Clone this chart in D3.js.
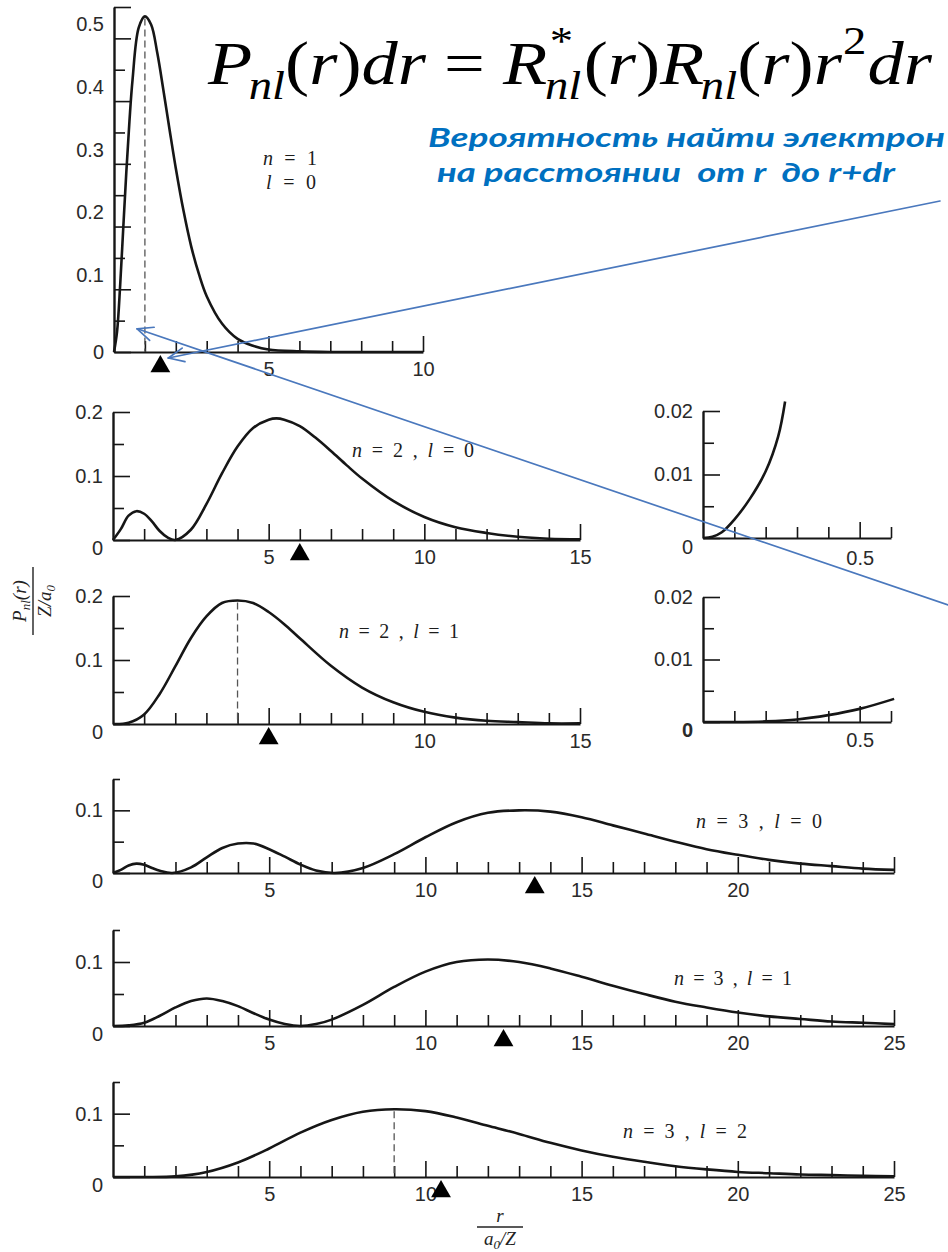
<!DOCTYPE html>
<html>
<head>
<meta charset="utf-8">
<script src="https://cdn.jsdelivr.net/npm/d3@7"></script>
<style>
  html, body { margin: 0; padding: 0; background: #fff; }
  svg { display: block; }
</style>
</head>
<body>
<svg id="chart" width="948" height="1252"></svg>
<script>
// Radial probability densities P_nl(r) of hydrogen-like states, r in units of a0/Z

// 1s
const r1s = [0, 0.1, 0.2, 0.3, 0.4, 0.5, 0.6, 0.8, 1.0, 1.2, 1.4, 1.6, 1.8, 2.0, 2.25, 2.5, 2.75, 3.0, 3.5, 4.0, 4.5, 5, 6, 7, 8, 10];
const p1s = [0, 0.033, 0.107, 0.198, 0.288, 0.368, 0.434, 0.517, 0.535, 0.522, 0.477, 0.417, 0.354, 0.293, 0.225, 0.168, 0.124, 0.089, 0.045, 0.021, 0.010, 0.004, 0.001, 0, 0, 0];

// 2s
const r2s = [0, 0.25, 0.5, 0.75, 1, 1.25, 1.5, 1.75, 2, 2.5, 3, 3.5, 4, 4.5, 5, 5.25, 5.5, 6, 6.5, 7, 7.5, 8, 9, 10, 11, 12, 13, 14, 15];
const p2s = [0, 0.017, 0.038, 0.045, 0.041, 0.029, 0.014, 0.004, 0, 0.016, 0.056, 0.104, 0.146, 0.175, 0.188, 0.190, 0.188, 0.178, 0.160, 0.139, 0.117, 0.096, 0.061, 0.036, 0.020, 0.011, 0.005, 0.002, 0.001];

// 2p
const r2p = [0, 0.5, 1, 1.5, 2, 2.5, 3, 3.5, 4, 4.5, 5, 5.5, 6, 7, 8, 9, 10, 11, 12, 13, 14, 15];
const p2p = [0, 0.002, 0.015, 0.047, 0.090, 0.134, 0.168, 0.189, 0.193, 0.189, 0.175, 0.156, 0.134, 0.091, 0.057, 0.034, 0.019, 0.010, 0.005, 0.003, 0.001, 0.001];

// 3s
const r3s = [0, 0.25, 0.5, 0.75, 1, 1.25, 1.5, 1.9, 2.5, 3, 3.5, 4, 4.5, 5, 5.5, 6, 6.5, 7.1, 8, 9, 10, 11, 12, 13, 14, 15, 16, 17, 18, 19, 20, 21, 22, 23, 24, 25];
const p3s = [0, 0.005, 0.012, 0.015, 0.013, 0.008, 0.0035, 0, 0.009, 0.025, 0.040, 0.047, 0.047, 0.038, 0.026, 0.0135, 0.004, 0, 0.008, 0.030, 0.057, 0.081, 0.096, 0.100, 0.098, 0.089, 0.076, 0.063, 0.050, 0.038, 0.029, 0.021, 0.015, 0.011, 0.007, 0.005];

// 3p
const r3p = [0, 0.5, 1, 1.5, 2, 2.5, 3, 3.5, 4, 4.5, 5, 5.5, 6, 6.5, 7, 8, 9, 10, 11, 12, 13, 14, 15, 16, 17, 18, 19, 20, 21, 22, 23, 24, 25];
const p3p = [0, 0.001, 0.005, 0.016, 0.029, 0.039, 0.043, 0.039, 0.031, 0.020, 0.010, 0.003, 0, 0.003, 0.010, 0.033, 0.061, 0.085, 0.100, 0.104, 0.100, 0.090, 0.077, 0.063, 0.050, 0.038, 0.029, 0.021, 0.015, 0.011, 0.007, 0.005, 0.003];

// 3d
const r3d = [0, 1, 2, 3, 4, 5, 6, 7, 8, 9, 10, 11, 12, 13, 14, 15, 16, 17, 18, 19, 20, 21, 22, 23, 24, 25];
const p3d = [0, 0, 0.001, 0.008, 0.023, 0.045, 0.070, 0.090, 0.103, 0.107, 0.104, 0.094, 0.081, 0.068, 0.054, 0.042, 0.032, 0.024, 0.017, 0.012, 0.008, 0.006, 0.004, 0.003, 0.002, 0.001];

// close-up of 2s and 2p near the nucleus
const r2sNear = [0, 0.03, 0.06, 0.1, 0.15, 0.2, 0.24, 0.262];
const p2sNear = [0, 0.0002, 0.0009, 0.0029, 0.0062, 0.0105, 0.0160, 0.0215];
const r2pNear = [0, 0.1, 0.2, 0.3, 0.4, 0.5, 0.61];
const p2pNear = [0, 0, 0.0001, 0.0004, 0.0011, 0.0021, 0.0037];

// mean radius <r> (triangle markers) and most probable radius (dashed lines)
const meanRadius = { "1s": 1.5, "2s": 6, "2p": 5, "3s": 13.5, "3p": 12.5, "3d": 10.5 };
const peakRadius = { "1s": 1, "2p": 4, "3d": 9 };

// tick labels
const yLabels1 = [0, 0.1, 0.2, 0.3, 0.4, 0.5];
const yMinor1 = [0.05, 0.15, 0.25, 0.35, 0.45];
const yLabels2 = [0, 0.1, 0.2];
const yMinor2 = [0.05, 0.15];
const yLabels3 = [0, 0.1];
const yMinor3 = [0.05];
const yLabelsNear = [0, 0.01, 0.02];
const yMinorNear = [0.005, 0.015];
const xLabels1 = [5, 10];
const xLabels2s = [5, 10, 15];
const xLabels2p = [10, 15];
const xLabels3s = [5, 10, 15, 20];
const xLabels3 = [5, 10, 15, 20, 25];
const xLabelsNear = [0.5];

const stateLabels = {
  "1s": [["n", " = 1"], ["l", " = 0"]],
  "2s": [["n", " = 2 , ", "l", " = 0"]],
  "2p": [["n", " = 2 , ", "l", " = 1"]],
  "3s": [["n", " = 3 , ", "l", " = 0"]],
  "3p": [["n", " = 3 , ", "l", " = 1"]],
  "3d": [["n", " = 3 , ", "l", " = 2"]]
};

// ---------------------------------------------------------------------------
const svg = d3.select("#chart");
const INK = "#161616";
const SANS = "'Liberation Sans', Arial, sans-serif";
const SERIF = "'Liberation Serif', 'Times New Roman', serif";
const BLUE = "#0070C0";
const ARROW = "#4a78bd";

const panels = [
  { key: "1s", r: r1s, p: p1s, xMax: 10, yMax: 0.55, left: 114, right: 423, base: 352, top: 7,
    xMajor: [5, 10], xMinor: [1, 2, 3, 4, 6, 7, 8, 9], xLabels: xLabels1,
    yLabels: yLabels1, yMinor: yMinor1, yTop: 0.55, yTopLen: 17, lift: -14, zeroDrop: 0,
    label: [{ x: 263, y: 160, w: 54 }, { x: 266, y: 184, w: 50 }] },
  { key: "2s", r: r2s, p: p2s, xMax: 15, yMax: 0.2, left: 113, right: 580, base: 540, top: 412,
    xMajor: [5, 10, 15], xMinor: d3.range(1, 15).filter(v => v % 5), xLabels: xLabels2s,
    yLabels: yLabels2, yMinor: yMinor2, lift: 0, zeroDrop: 8,
    label: [{ x: 352, y: 452, w: 122 }] },
  { key: "2p", r: r2p, p: p2p, xMax: 15, yMax: 0.2, left: 113, right: 580, base: 724, top: 596,
    xMajor: [5, 10, 15], xMinor: d3.range(1, 15).filter(v => v % 5), xLabels: xLabels2p,
    yLabels: yLabels2, yMinor: yMinor2, lift: 0, zeroDrop: 8,
    label: [{ x: 339, y: 633, w: 120 }] },
  { key: "3s", r: r3s, p: p3s, xMax: 25, yMax: 0.15, left: 113, right: 894, base: 873, top: 779,
    xMajor: [5, 10, 15, 20, 25], xMinor: d3.range(1, 25).filter(v => v % 5), xLabels: xLabels3s,
    yLabels: yLabels3, yMinor: yMinor3, yTop: 0.15, yTopLen: 7, lift: 0, zeroDrop: 8,
    label: [{ x: 696, y: 823, w: 126 }] },
  { key: "3p", r: r3p, p: p3p, xMax: 25, yMax: 0.15, left: 113, right: 894, base: 1026, top: 930,
    xMajor: [5, 10, 15, 20, 25], xMinor: d3.range(1, 25).filter(v => v % 5), xLabels: xLabels3,
    yLabels: yLabels3, yMinor: yMinor3, yTop: 0.15, yTopLen: 7, lift: 0, zeroDrop: 8,
    label: [{ x: 674, y: 980, w: 118 }] },
  { key: "3d", r: r3d, p: p3d, xMax: 25, yMax: 0.15, left: 113, right: 894, base: 1177, top: 1082,
    xMajor: [5, 10, 15, 20, 25], xMinor: d3.range(1, 25).filter(v => v % 5), xLabels: xLabels3,
    yLabels: yLabels3, yMinor: yMinor3, yTop: 0.15, yTopLen: 7, lift: 0, zeroDrop: 8,
    label: [{ x: 623, y: 1133, w: 124 }] },
  { key: "2sNear", r: r2sNear, p: p2sNear, xMax: 0.6, yMax: 0.02, left: 703, right: 891, base: 538, top: 411,
    xMajor: [0.5], xMinor: [0.1, 0.2, 0.3, 0.4, 0.6], xLabels: xLabelsNear,
    yLabels: yLabelsNear, yMinor: yMinorNear, lift: 0, zeroDrop: 9, xPad: 13 },
  { key: "2pNear", r: r2pNear, p: p2pNear, xMax: 0.6, yMax: 0.02, left: 703, right: 891, base: 722, top: 597,
    xMajor: [0.5], xMinor: [0.1, 0.2, 0.3, 0.4, 0.6], xLabels: xLabelsNear,
    yLabels: yLabelsNear, yMinor: yMinorNear, lift: 0, zeroDrop: 8, xPad: 11, boldZero: true }
];

const scales = {};

function styleAxis(sel, width) {
  sel.select(".domain").attr("stroke", INK).attr("stroke-width", width);
  sel.selectAll(".tick line").attr("stroke", INK).attr("stroke-width", 1.6);
  sel.selectAll(".tick text")
    .attr("fill", "#2a2a2a")
    .style("font-family", SANS)
    .style("font-size", "20px");
}

function drawPanel(cfg) {
  const x = d3.scaleLinear().domain([0, cfg.xMax]).range([cfg.left, cfg.right]);
  const y = d3.scaleLinear().domain([0, cfg.yMax]).range([cfg.base, cfg.top]);
  scales[cfg.key] = { x, y };
  const g = svg.append("g").attr("class", "panel-" + cfg.key);

  // x axis: long ticks every 5 units, short ticks in between, pointing up
  const gxMinor = g.append("g").attr("transform", `translate(0,${cfg.base})`)
    .call(d3.axisBottom(x).tickValues(cfg.xMinor).tickSizeInner(-11).tickSizeOuter(0).tickFormat(""));
  gxMinor.select(".domain").remove();
  styleAxis(gxMinor, 2);

  const gx = g.append("g").attr("transform", `translate(0,${cfg.base})`)
    .call(d3.axisBottom(x).tickValues(cfg.xMajor).tickSizeInner(-16).tickSizeOuter(0)
      .tickPadding(cfg.xPad || 10)
      .tickFormat(d => cfg.xLabels.includes(d) ? String(d) : ""));
  styleAxis(gx, 2.2);

  // y axis
  const gyMinor = g.append("g").attr("transform", `translate(${cfg.left},0)`)
    .call(d3.axisLeft(y).tickValues(cfg.yMinor).tickSizeInner(-11).tickSizeOuter(0).tickFormat(""));
  gyMinor.select(".domain").remove();
  styleAxis(gyMinor, 2);

  if (cfg.yTop !== undefined) {
    const gyTop = g.append("g").attr("transform", `translate(${cfg.left},0)`)
      .call(d3.axisLeft(y).tickValues([cfg.yTop]).tickSizeInner(-cfg.yTopLen).tickSizeOuter(0).tickFormat(""));
    gyTop.select(".domain").remove();
    styleAxis(gyTop, 2);
  }

  const gy = g.append("g").attr("transform", `translate(${cfg.left},0)`)
    .call(d3.axisLeft(y).tickValues(cfg.yLabels).tickSizeInner(-17).tickSizeOuter(0).tickPadding(10)
      .tickFormat(d => String(d)));
  styleAxis(gy, 2.4);
  gy.selectAll(".tick text")
    .attr("transform", d => d === 0 ? `translate(0,${cfg.zeroDrop})` : `translate(0,${cfg.lift})`)
    .style("font-weight", d => (d === 0 && cfg.boldZero) ? "bold" : null);

  // density curve
  const line = d3.line()
    .x(d => x(d[0]))
    .y(d => y(d[1]))
    .curve(d3.curveCatmullRom.alpha(0.5));
  g.append("path")
    .datum(d3.zip(cfg.r, cfg.p))
    .attr("fill", "none")
    .attr("stroke", INK)
    .attr("stroke-width", 2.6)
    .attr("stroke-linejoin", "round")
    .attr("d", line);

  // most probable radius
  if (peakRadius[cfg.key] !== undefined) {
    const rp = peakRadius[cfg.key];
    const pv = cfg.p[cfg.r.indexOf(rp)];
    g.append("line")
      .attr("x1", x(rp)).attr("x2", x(rp))
      .attr("y1", y(pv) + 2).attr("y2", y(0))
      .attr("stroke", "#555")
      .attr("stroke-width", 1.3)
      .attr("stroke-dasharray", "7,4");
  }

  // mean radius marker
  if (meanRadius[cfg.key] !== undefined) {
    g.append("path")
      .attr("d", d3.symbol(d3.symbolTriangle, 170)())
      .attr("transform", `translate(${x(meanRadius[cfg.key])},${cfg.base + 14.5})`)
      .attr("fill", "#000");
  }

  // state label
  if (cfg.label) {
    stateLabels[cfg.key].forEach((parts, i) => {
      const pos = cfg.label[i];
      const t = g.append("text")
        .attr("x", pos.x).attr("y", pos.y)
        .attr("dominant-baseline", "middle")
        .attr("textLength", pos.w)
        .attr("lengthAdjust", "spacing")
        .style("font-family", SERIF)
        .style("font-size", "20px")
        .style("white-space", "pre")
        .attr("fill", "#1c1c1c");
      parts.forEach(s => {
        t.append("tspan").text(s)
          .style("font-style", (s === "n" || s === "l") ? "italic" : "normal");
      });
    });
  }
}

panels.forEach(drawPanel);

// vertical axis title: P_nl(r) / (Z/a0)
(function () {
  const g = svg.append("g").attr("transform", "translate(33,601) rotate(-90)");
  const num = g.append("text").attr("x", 0).attr("y", -7).attr("text-anchor", "middle")
    .style("font-family", SERIF).style("font-size", "19px").style("font-style", "italic").attr("fill", "#222");
  num.append("tspan").text("P");
  num.append("tspan").text("nl").attr("dy", 4).style("font-size", "13px");
  num.append("tspan").text("(r)").attr("dy", -4);
  g.append("line").attr("x1", -34).attr("x2", 34).attr("y1", 0).attr("y2", 0)
    .attr("stroke", "#222").attr("stroke-width", 1.4);
  const den = g.append("text").attr("x", 0).attr("y", 18).attr("text-anchor", "middle")
    .style("font-family", SERIF).style("font-size", "19px").style("font-style", "italic").attr("fill", "#222");
  den.append("tspan").text("Z/a");
  den.append("tspan").text("0").attr("dy", 4).style("font-size", "13px");
})();

// horizontal axis title: r / (a0/Z)
(function () {
  const g = svg.append("g").attr("transform", "translate(500,1227)");
  g.append("text").attr("x", 0).attr("y", -5).attr("text-anchor", "middle")
    .style("font-family", SERIF).style("font-size", "19px").style("font-style", "italic")
    .attr("fill", "#222").text("r");
  g.append("line").attr("x1", -23).attr("x2", 23).attr("y1", 0).attr("y2", 0)
    .attr("stroke", "#222").attr("stroke-width", 1.4);
  const den = g.append("text").attr("x", 0).attr("y", 18).attr("text-anchor", "middle")
    .style("font-family", SERIF).style("font-size", "19px").style("font-style", "italic").attr("fill", "#222");
  den.append("tspan").text("a");
  den.append("tspan").text("0").attr("dy", 4).style("font-size", "13px");
  den.append("tspan").text("/Z").attr("dy", -4);
})();

// formula P_nl(r)dr = R*_nl(r) R_nl(r) r^2 dr
(function () {
  const parts = [
    { t: "P", it: true }, { t: "nl", it: true, sub: true }, { t: "(" }, { t: "r", it: true }, { t: ")" },
    { t: "dr", it: true }, { t: " = " }, { t: "R", it: true }, { stack: ["*", "nl"] },
    { t: "(" }, { t: "r", it: true }, { t: ")" }, { t: "R", it: true }, { t: "nl", it: true, sub: true },
    { t: "(" }, { t: "r", it: true }, { t: ")" }, { t: "r", it: true }, { t: "2", sup: true },
    { t: "dr", it: true }
  ];
  const g = svg.append("g");
  const inner = g.append("g");
  let cursor = 0;
  const put = (txt, it, size, dy, xpos) => {
    const el = inner.append("text")
      .attr("x", xpos).attr("y", dy)
      .style("font-family", SERIF)
      .style("font-size", size + "px")
      .style("font-style", it ? "italic" : "normal")
      .style("white-space", "pre")
      .attr("fill", "#000")
      .text(txt);
    return el.node().getComputedTextLength();
  };
  parts.forEach(pt => {
    if (pt.stack) {
      const a = put(pt.stack[0], false, 40, -30, cursor + 2);
      const b = put(pt.stack[1], true, 40, 15, cursor - 2);
      cursor += Math.max(a, b);
    } else if (pt.sub) {
      cursor += put(pt.t, true, 40, 15, cursor - 3) - 3;
    } else if (pt.sup) {
      cursor += put(pt.t, false, 40, -30, cursor + 1) + 2;
    } else {
      cursor += put(pt.t, pt.it, 62, 0, cursor);
    }
  });
  const target = 932 - 208;
  g.attr("transform", `translate(208,84) scale(${target / cursor},1)`);
})();

// caption
svg.append("text")
  .attr("x", 428).attr("y", 147)
  .attr("textLength", 517).attr("lengthAdjust", "spacingAndGlyphs")
  .style("font-family", "Lato, 'Open Sans', sans-serif")
  .style("font-size", "27px").style("font-weight", "bold").style("font-style", "italic")
  .attr("fill", BLUE)
  .text("Вероятность найти электрон");
svg.append("text")
  .attr("x", 437).attr("y", 182)
  .attr("textLength", 458).attr("lengthAdjust", "spacingAndGlyphs")
  .style("font-family", "Lato, 'Open Sans', sans-serif")
  .style("font-size", "27px").style("font-weight", "bold").style("font-style", "italic")
  .style("white-space", "pre")
  .attr("fill", BLUE)
  .text("на расстоянии  от r  до r+dr");

// pointer arrows from the caption to the 1s plot
function arrow(x1, y1, x2, y2) {
  const g = svg.append("g").attr("stroke", ARROW).attr("stroke-width", 1.7).attr("fill", "none")
    .attr("stroke-linecap", "round");
  g.append("line").attr("x1", x1).attr("y1", y1).attr("x2", x2).attr("y2", y2);
  const ang = Math.atan2(y1 - y2, x1 - x2);
  const len = 17, spread = 0.42;
  [ang - spread, ang + spread].forEach(a => {
    g.append("line")
      .attr("x1", x2).attr("y1", y2)
      .attr("x2", x2 + len * Math.cos(a)).attr("y2", y2 + len * Math.sin(a));
  });
}
const s1 = scales["1s"];
arrow(940, 201, s1.x(meanRadius["1s"]) + 8, s1.y(0) + 6);
arrow(948, 605, s1.x(0.75), s1.y(0.037));
</script>
</body>
</html>
